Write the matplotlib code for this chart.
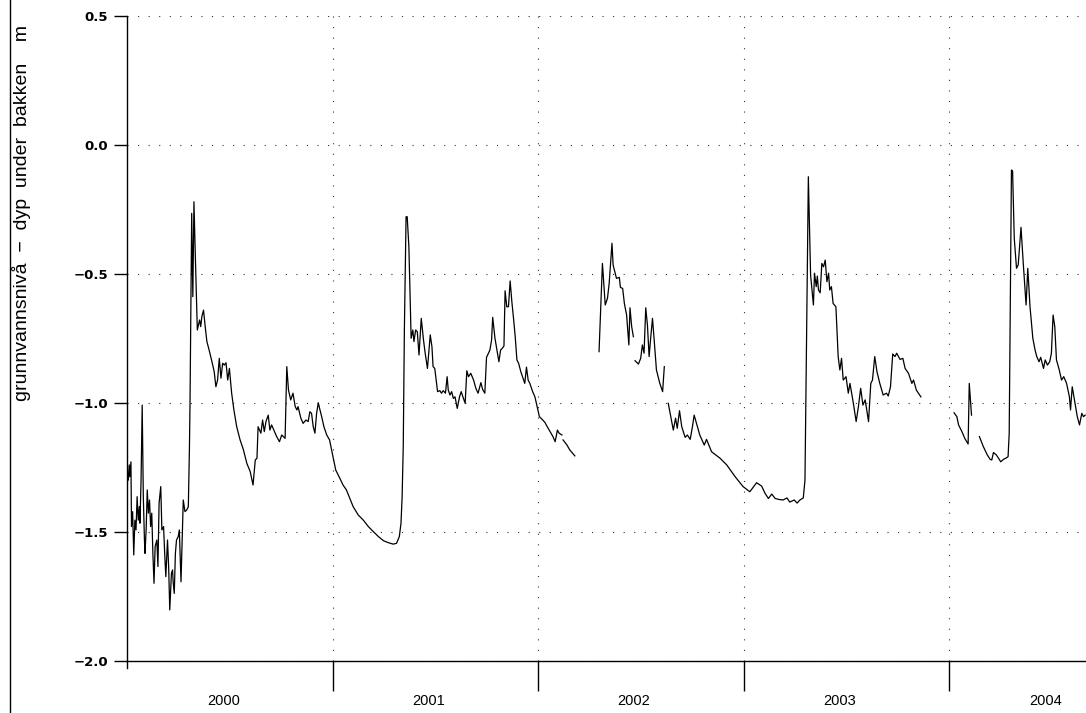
import numpy as np
import matplotlib
matplotlib.use("Agg")
import matplotlib.pyplot as plt
import matplotlib.dates as mdates
from matplotlib.lines import Line2D
from matplotlib.ticker import FixedLocator, NullFormatter

# ---- data: days since 2000-01-01 and groundwater level (m, negative = below ground) ----
days_a = [0, 1, 2, 4, 5, 7, 8, 10, 12, 14, 16, 18, 20, 22, 23, 25, 27, 29, 31, 32,
          34, 36, 38, 40, 42, 44, 46, 48, 50, 53, 55, 57, 60, 62, 65, 67, 69, 72, 74, 76,
          79, 81, 82, 84, 86, 88, 91, 93, 96, 98, 100, 103, 106, 109, 111, 112, 115, 117, 119, 121,
          125, 129, 131, 133, 136, 139, 142, 146, 151, 155, 158, 161, 164, 167, 170, 173, 176, 179, 182, 186,
          190, 195, 201, 207, 213, 219, 224, 228, 231, 233, 238, 241, 244, 247, 251, 254, 257, 261, 266, 271,
          275, 281, 284, 287, 291, 295, 299, 302, 304, 309, 313, 318, 322, 325, 328, 331, 334, 337, 340, 343,
          346, 350, 355, 360, 366, 371, 377, 384, 390, 396, 402, 411, 420, 429, 438, 447, 456, 464, 473, 479,
          484, 487, 489, 491, 493, 496, 498, 501, 505, 508, 510, 513, 516, 519, 523, 527, 530, 534, 539, 542,
          544, 547, 552, 556, 559, 562, 566, 569, 571, 574, 577, 580, 583, 587, 591, 594, 597, 601, 604, 607,
          611, 616, 620, 624, 629, 632, 636, 639, 645, 648, 650, 654, 657, 661, 664, 667, 670, 672, 675, 678,
          681, 684, 687, 690, 693, 696, 700, 703, 707, 710, 713, 716, 721, 725, 729, 733, 739, 743, 747, 752,
          757, 761, 765, 768, 773]
level_a = [-1.421, -1.273, -1.299, -1.240, -1.286, -1.228, -1.479, -1.421, -1.589, -1.454,
           -1.492, -1.363, -1.454, -1.402, -1.466, -1.299, -1.008, -1.363, -1.531, -1.583,
           -1.492, -1.337, -1.427, -1.376, -1.479, -1.427, -1.583, -1.699, -1.557, -1.531,
           -1.634, -1.389, -1.324, -1.492, -1.479, -1.583, -1.673, -1.531, -1.634, -1.802,
           -1.660, -1.647, -1.693, -1.738, -1.583, -1.531, -1.518, -1.492, -1.693, -1.531,
           -1.376, -1.421, -1.415, -1.402, -1.169, -1.001, -0.265, -0.588, -0.220, -0.394,
           -0.717, -0.678, -0.704, -0.666, -0.640, -0.704, -0.762, -0.795, -0.840, -0.879,
           -0.937, -0.911, -0.827, -0.904, -0.846, -0.853, -0.844, -0.911, -0.866, -0.962,
           -1.027, -1.092, -1.143, -1.182, -1.234, -1.266, -1.318, -1.221, -1.214, -1.092,
           -1.117, -1.066, -1.111, -1.072, -1.047, -1.105, -1.085, -1.105, -1.130, -1.150,
           -1.124, -1.137, -0.859, -0.950, -0.988, -0.962, -1.014, -1.027, -1.014, -1.059,
           -1.079, -1.066, -1.072, -1.034, -1.040, -1.092, -1.117, -1.040, -0.999, -1.027,
           -1.053, -1.092, -1.124, -1.143, -1.208, -1.260, -1.286, -1.318, -1.337, -1.370,
           -1.402, -1.434, -1.454, -1.479, -1.499, -1.518, -1.534, -1.541, -1.547, -1.544,
           -1.518, -1.466, -1.363, -1.169, -0.717, -0.278, -0.278, -0.394, -0.749, -0.717,
           -0.762, -0.717, -0.724, -0.814, -0.672, -0.756, -0.807, -0.866, -0.736, -0.782,
           -0.859, -0.866, -0.956, -0.952, -0.962, -0.952, -0.962, -0.898, -0.950, -0.969,
           -0.956, -0.982, -0.976, -1.021, -0.976, -0.956, -0.976, -1.001, -0.875, -0.898,
           -0.885, -0.911, -0.943, -0.962, -0.921, -0.947, -0.962, -0.823, -0.795, -0.756,
           -0.668, -0.749, -0.788, -0.840, -0.795, -0.788, -0.779, -0.565, -0.627, -0.627,
           -0.527, -0.607, -0.672, -0.743, -0.833, -0.846, -0.879, -0.898, -0.924, -0.861,
           -0.911, -0.924, -0.956, -0.976, -1.014, -1.053, -1.066, -1.076, -1.092, -1.111,
           -1.130, -1.150, -1.105, -1.117, -1.124]

days_b = [775, 782, 787, 796]
level_b = [-1.143, -1.163, -1.182, -1.205]

days_c = [839, 845, 850, 854, 857, 862, 864, 870, 875, 877, 881, 884, 888, 892, 894, 897, 900]
level_c = [-0.801, -0.459, -0.620, -0.594, -0.536, -0.381, -0.465, -0.517, -0.513, -0.552,
           -0.556, -0.614, -0.659, -0.775, -0.631, -0.704, -0.743]

days_d = [903, 909, 913, 916, 919, 922, 925, 928, 931, 934, 937, 941, 947, 952, 955]
level_d = [-0.836, -0.849, -0.827, -0.775, -0.807, -0.631, -0.698, -0.820, -0.743, -0.672,
           -0.756, -0.872, -0.924, -0.956, -0.859]

days_e = [962, 971, 975, 978, 982, 986, 992, 996, 1001, 1005, 1008, 1013, 1018, 1026, 1030,
          1039, 1054, 1066, 1081, 1095, 1107, 1119, 1128, 1134, 1140, 1146, 1152, 1159, 1166, 1173,
          1178, 1186, 1191, 1196, 1202, 1205, 1208, 1211, 1215, 1220, 1222, 1225, 1227, 1229, 1232,
          1235, 1238, 1241, 1244, 1247, 1249, 1252, 1255, 1260, 1264, 1267, 1270, 1273, 1278, 1282,
          1285, 1291, 1296, 1300, 1304, 1308, 1312, 1318, 1322, 1325, 1329, 1333, 1338, 1344, 1350,
          1353, 1357, 1361, 1365, 1368, 1374, 1379, 1383, 1389, 1395, 1398, 1403, 1411]
level_e = [-1.001, -1.105, -1.059, -1.098, -1.030, -1.092, -1.133, -1.124, -1.141, -1.092,
           -1.047, -1.085, -1.124, -1.163, -1.141, -1.189, -1.214, -1.240, -1.286, -1.324,
           -1.344, -1.309, -1.322, -1.350, -1.370, -1.353, -1.370, -1.374, -1.376, -1.368,
           -1.384, -1.376, -1.388, -1.376, -1.368, -1.299, -0.717, -0.123, -0.504, -0.620,
           -0.497, -0.549, -0.508, -0.562, -0.573, -0.459, -0.472, -0.446, -0.530, -0.497,
           -0.562, -0.549, -0.614, -0.627, -0.820, -0.872, -0.827, -0.911, -0.898, -0.962,
           -0.924, -1.001, -1.072, -1.014, -0.943, -1.008, -0.988, -1.072, -0.924, -0.911,
           -0.820, -0.879, -0.924, -0.969, -0.962, -0.973, -0.937, -0.810, -0.820, -0.807,
           -0.831, -0.827, -0.866, -0.885, -0.924, -0.911, -0.950, -0.976]

days_f = [1470, 1475, 1478, 1484, 1489, 1495, 1497, 1501]
level_f = [-1.038, -1.053, -1.085, -1.111, -1.137, -1.159, -0.924, -1.047]

days_g = [1515, 1522, 1529, 1534, 1537, 1540, 1545, 1549, 1553, 1558, 1562, 1566, 1568, 1570,
          1572, 1574, 1577, 1581, 1584, 1589, 1593, 1598, 1601, 1605, 1610, 1614, 1617, 1621, 1624,
          1629, 1632, 1636, 1640, 1643, 1646, 1649, 1652, 1657, 1661, 1665, 1670, 1675, 1677, 1680,
          1685, 1689, 1693, 1697, 1700, 1703]
level_g = [-1.130, -1.169, -1.201, -1.218, -1.221, -1.192, -1.201, -1.214, -1.228, -1.218,
           -1.214, -1.208, -1.117, -0.601, -0.097, -0.100, -0.362, -0.478, -0.465, -0.319,
           -0.459, -0.620, -0.478, -0.627, -0.749, -0.795, -0.820, -0.840, -0.823, -0.866,
           -0.833, -0.853, -0.840, -0.807, -0.659, -0.704, -0.833, -0.872, -0.911, -0.898,
           -0.924, -0.976, -1.027, -0.937, -1.001, -1.053, -1.085, -1.040, -1.053, -1.047]

years = [2000, 2001, 2002, 2003, 2004]
y_ticks = [-2.0, -1.5, -1.0, -0.5, 0.0, 0.5]
y_label = "grunnvannsnivå  \u2212  dyp  under  bakken    m"

# ---- figure ----
W, H = 1086, 713
fig = plt.figure(figsize=(W / 100, H / 100), dpi=100)
ax = fig.add_axes([127 / W, 1 - 661 / H, 1 - 127 / W, (661 - 16) / H])

start = np.datetime64("2000-01-01")
segments = [(days_a, level_a), (days_b, level_b), (days_c, level_c), (days_d, level_d),
            (days_e, level_e), (days_f, level_f), (days_g, level_g)]
for d, lv in segments:
    x = start + np.array(d).astype("timedelta64[D]")
    ax.plot(x, lv, color="black", lw=0.9)

x0 = mdates.date2num(start)
ax.set_xlim(x0, x0 + 1704.5)
ax.set_ylim(-2.0, 0.5)

# y axis
ax.set_yticks(y_ticks)
ax.set_yticklabels([f"{v:.1f}".replace("-", "\u2212") for v in y_ticks],
                   fontsize=9.5, fontweight="bold", family="DejaVu Sans")
ax.tick_params(axis="y", direction="out", length=9.5, width=1.0, pad=4, color="black")
ax.set_ylabel(y_label, fontsize=14, family=["Liberation Sans", "DejaVu Sans"])
ax.yaxis.set_label_coords(-(127 - 31) / (W - 127), 0.695)

# x axis: long ticks at year boundaries, labels mid-year
year_starts = [mdates.date2num(np.datetime64(f"{y}-01-01")) for y in years]
ax.xaxis.set_major_locator(FixedLocator(year_starts[1:]))
ax.xaxis.set_major_formatter(NullFormatter())
mid = [mdates.date2num(np.datetime64(f"{y}-06-20")) for y in years]
ax.xaxis.set_minor_locator(FixedLocator(mid))
ax.set_xticklabels([str(y) for y in years], minor=True)
ax.tick_params(axis="x", which="major", direction="out", length=21.5, width=1.0, color="black")
ax.tick_params(axis="x", which="minor", length=0, pad=24, labelsize=10.5)
for lab in ax.get_xticklabels(minor=True):
    lab.set_family(["Liberation Sans Narrow", "Liberation Sans", "DejaVu Sans"])

# grid
ax.grid(True, which="major", linestyle=(0, (1, 8.5)), linewidth=0.8, color="#333333")

for s in ["top", "right"]:
    ax.spines[s].set_visible(False)
for s in ["left", "bottom"]:
    ax.spines[s].set_linewidth(1.0)
    ax.spines[s].set_color("black")
# short extension of left spine below the axis
ax.plot([0, 0], [0, -7 / (661 - 16)], transform=ax.transAxes, color="black", lw=1.0, clip_on=False)

# left frame line
fig.add_artist(Line2D([10 / W, 10 / W], [0, 1], transform=fig.transFigure, color="black", lw=1.0))

fig.savefig("out.png", dpi=100)
